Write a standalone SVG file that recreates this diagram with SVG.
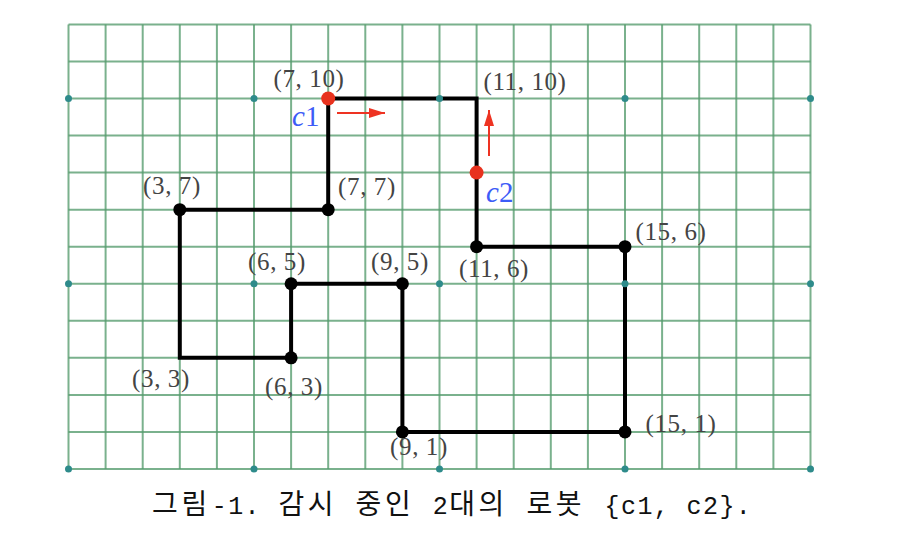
<svg xmlns="http://www.w3.org/2000/svg" width="902" height="544" viewBox="0 0 902 544">
<style>
.grid line{stroke:#559b6d;stroke-width:2;stroke-opacity:0.78}
.teal{fill:#2e8b8b}
.path{fill:none;stroke:#000;stroke-width:4;stroke-linejoin:miter}
.vtx{fill:#000}
.lbl{font-family:"Liberation Serif",serif;font-size:25px;fill:#444;text-anchor:middle;letter-spacing:0.6px}
.robot{fill:#e8321e}
.rname{font-family:"Liberation Serif",serif;font-size:29px;fill:#3d5cf7}
.arrow{stroke:#ee3322;stroke-width:2;fill:none}
.cap{font-family:"Liberation Mono","Noto Sans CJK KR",monospace;font-size:25px;fill:#111}
.ko{font-family:"Noto Sans CJK KR",sans-serif;font-size:28px}
</style>
<defs>
<marker id="redArrow" markerUnits="userSpaceOnUse" markerWidth="16" markerHeight="10" refX="16" refY="5" orient="auto">
<path d="M0,0 L16,5 L0,10 z" fill="#ee3322"/>
</marker>
</defs>
<rect width="902" height="544" fill="#fff"/>
<g id="grid" class="grid">
<line x1="68.5" y1="24.4" x2="68.5" y2="469"/>
<line x1="105.6" y1="24.4" x2="105.6" y2="469"/>
<line x1="142.7" y1="24.4" x2="142.7" y2="469"/>
<line x1="179.8" y1="24.4" x2="179.8" y2="469"/>
<line x1="216.9" y1="24.4" x2="216.9" y2="469"/>
<line x1="254" y1="24.4" x2="254" y2="469"/>
<line x1="291.1" y1="24.4" x2="291.1" y2="469"/>
<line x1="328.2" y1="24.4" x2="328.2" y2="469"/>
<line x1="365.3" y1="24.4" x2="365.3" y2="469"/>
<line x1="402.4" y1="24.4" x2="402.4" y2="469"/>
<line x1="439.5" y1="24.4" x2="439.5" y2="469"/>
<line x1="476.6" y1="24.4" x2="476.6" y2="469"/>
<line x1="513.7" y1="24.4" x2="513.7" y2="469"/>
<line x1="550.8" y1="24.4" x2="550.8" y2="469"/>
<line x1="587.9" y1="24.4" x2="587.9" y2="469"/>
<line x1="625" y1="24.4" x2="625" y2="469"/>
<line x1="662.1" y1="24.4" x2="662.1" y2="469"/>
<line x1="699.2" y1="24.4" x2="699.2" y2="469"/>
<line x1="736.3" y1="24.4" x2="736.3" y2="469"/>
<line x1="773.4" y1="24.4" x2="773.4" y2="469"/>
<line x1="810.5" y1="24.4" x2="810.5" y2="469"/>
<line x1="68.5" y1="24.4" x2="810.5" y2="24.4"/>
<line x1="68.5" y1="61.45" x2="810.5" y2="61.45"/>
<line x1="68.5" y1="98.5" x2="810.5" y2="98.5"/>
<line x1="68.5" y1="135.55" x2="810.5" y2="135.55"/>
<line x1="68.5" y1="172.6" x2="810.5" y2="172.6"/>
<line x1="68.5" y1="209.65" x2="810.5" y2="209.65"/>
<line x1="68.5" y1="246.7" x2="810.5" y2="246.7"/>
<line x1="68.5" y1="283.75" x2="810.5" y2="283.75"/>
<line x1="68.5" y1="320.8" x2="810.5" y2="320.8"/>
<line x1="68.5" y1="357.85" x2="810.5" y2="357.85"/>
<line x1="68.5" y1="394.9" x2="810.5" y2="394.9"/>
<line x1="68.5" y1="431.95" x2="810.5" y2="431.95"/>
<line x1="68.5" y1="469" x2="810.5" y2="469"/>
</g>
<g id="connectors">
<path class="path" d="M328.2,98.5 L476.6,98.5 L476.6,246.7 L625,246.7 L625,431.95 L402.4,431.95 L402.4,283.75 L291.1,283.75 L291.1,357.85 L179.8,357.85 L179.8,209.65 L328.2,209.65 Z"/>
</g>
<g id="grid-marks">
<circle class="teal" cx="68.5" cy="98.5" r="3.5"/>
<circle class="teal" cx="254" cy="98.5" r="3.5"/>
<circle class="teal" cx="439.5" cy="98.5" r="3.5"/>
<circle class="teal" cx="625" cy="98.5" r="3.5"/>
<circle class="teal" cx="810.5" cy="98.5" r="3.5"/>
<circle class="teal" cx="68.5" cy="283.75" r="3.5"/>
<circle class="teal" cx="254" cy="283.75" r="3.5"/>
<circle class="teal" cx="439.5" cy="283.75" r="3.5"/>
<circle class="teal" cx="625" cy="283.75" r="3.5"/>
<circle class="teal" cx="810.5" cy="283.75" r="3.5"/>
<circle class="teal" cx="68.5" cy="469" r="3.5"/>
<circle class="teal" cx="254" cy="469" r="3.5"/>
<circle class="teal" cx="439.5" cy="469" r="3.5"/>
<circle class="teal" cx="625" cy="469" r="3.5"/>
<circle class="teal" cx="810.5" cy="469" r="3.5"/>
</g>
<g id="n-7-10"><text class="lbl" x="309" y="87">(7, 10)</text></g>
<g id="n-11-10"><text class="lbl" x="525" y="90">(11, 10)</text></g>
<g id="n-7-7"><circle class="vtx" cx="328.2" cy="209.65" r="6.5"/><text class="lbl" x="367" y="195">(7, 7)</text></g>
<g id="n-3-7"><circle class="vtx" cx="179.8" cy="209.65" r="6.5"/><text class="lbl" x="172" y="194">(3, 7)</text></g>
<g id="n-6-5"><circle class="vtx" cx="291.1" cy="283.75" r="6.5"/><text class="lbl" x="277" y="270">(6, 5)</text></g>
<g id="n-9-5"><circle class="vtx" cx="402.4" cy="283.75" r="6.5"/><text class="lbl" x="400" y="270">(9, 5)</text></g>
<g id="n-11-6"><circle class="vtx" cx="476.6" cy="246.7" r="6.5"/><text class="lbl" x="494" y="277">(11, 6)</text></g>
<g id="n-15-6"><circle class="vtx" cx="625" cy="246.7" r="6.5"/><text class="lbl" x="671" y="240">(15, 6)</text></g>
<g id="n-3-3"><text class="lbl" x="161" y="387">(3, 3)</text></g>
<g id="n-6-3"><circle class="vtx" cx="291.1" cy="357.85" r="6.5"/><text class="lbl" x="294" y="395">(6, 3)</text></g>
<g id="n-9-1"><circle class="vtx" cx="402.4" cy="431.95" r="6.5"/><text class="lbl" x="419" y="455">(9, 1)</text></g>
<g id="n-15-1"><circle class="vtx" cx="625" cy="431.95" r="6.5"/><text class="lbl" x="681" y="432">(15, 1)</text></g>
<g id="robot-c1">
<circle class="robot" cx="328.2" cy="98.5" r="7"/>
<line class="arrow" x1="337" y1="113" x2="385" y2="113" marker-end="url(#redArrow)"/>
<text class="rname" x="292" y="126"><tspan font-style="italic">c</tspan>1</text>
</g>
<g id="robot-c2">
<circle class="robot" cx="476.6" cy="172.6" r="7"/>
<line class="arrow" x1="489" y1="156" x2="489" y2="110" marker-end="url(#redArrow)"/>
<text class="rname" x="486" y="202"><tspan font-style="italic">c</tspan>2</text>
</g>
<g id="caption">
<text class="cap" y="514"><tspan class="ko" x="152 181.4">그림</tspan><tspan x="211.8 228.2 244.6">-1.</tspan><tspan class="ko" x="278.4 307.8">감시</tspan><tspan class="ko" x="355.6 385">중인</tspan><tspan x="432.8">2</tspan><tspan class="ko" x="449.2 478.6">대의</tspan><tspan class="ko" x="526.4 555.8">로봇</tspan><tspan x="604.6 621 637.4 653.8">{c1,</tspan><tspan x="686.6 703 719.4 735.8">c2}.</tspan></text>
</g>
</svg>
